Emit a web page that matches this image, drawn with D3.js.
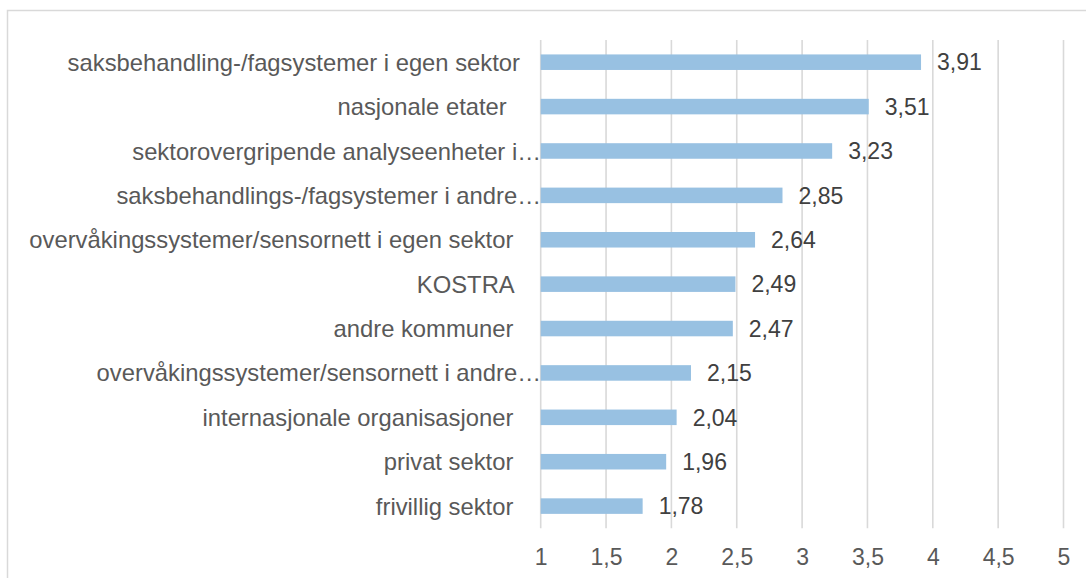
<!DOCTYPE html>
<html>
<head>
<meta charset="utf-8">
<script src="https://cdn.jsdelivr.net/npm/d3@7"></script>
<style>
  html, body { margin: 0; padding: 0; background: #fff; }
  svg text { font-family: "Liberation Sans", Arial, sans-serif; white-space: pre; }
</style>
</head>
<body>
<svg id="chart" width="1086" height="578"></svg>
<script>
// Data (top to bottom as displayed)
const categories = [
  "saksbehandling-/fagsystemer i egen sektor",
  "nasjonale etater  ",
  "sektorovergripende analyseenheter i…",
  "saksbehandlings-/fagsystemer i andre…",
  "overvåkingssystemer/sensornett i egen sektor ",
  "KOSTRA ",
  "andre kommuner ",
  "overvåkingssystemer/sensornett i andre…",
  "internasjonale organisasjoner ",
  "privat sektor ",
  "frivillig sektor "
];
const values = [3.91, 3.51, 3.23, 2.85, 2.64, 2.49, 2.47, 2.15, 2.04, 1.96, 1.78];
const tickValues = [1, 1.5, 2, 2.5, 3, 3.5, 4, 4.5, 5];
const tickLabels = ["1", "1,5", "2", "2,5", "3", "3,5", "4", "4,5", "5"];
const valueLabels = ["3,91", "3,51", "3,23", "2,85", "2,64", "2,49", "2,47", "2,15", "2,04", "1,96", "1,78"];

const svg = d3.select("#chart");
const W = 1086, H = 578;

// outer chart border
svg.append("rect")
  .attr("x", 7.5).attr("y", 10.5)
  .attr("width", 1100).attr("height", 600)
  .attr("fill", "#fff").attr("stroke", "#d9d9d9").attr("stroke-width", 1.5);

const plot = { left: 540.7, right: 1063.5, top: 40, bottom: 528.3 };

const x = d3.scaleLinear().domain([1, 5]).range([plot.left, plot.right]);
const y = d3.scaleBand().domain(d3.range(categories.length))
  .range([plot.top, plot.bottom]).paddingInner(0.65).paddingOuter(0.325);

// gridlines
svg.append("g").selectAll("line").data(tickValues).join("line")
  .attr("x1", d => x(d)).attr("x2", d => x(d))
  .attr("y1", plot.top).attr("y2", plot.bottom)
  .attr("stroke", "#d9d9d9").attr("stroke-width", 1.6);

// bars
svg.append("g").selectAll("rect").data(values).join("rect")
  .attr("x", x(1))
  .attr("y", (d, i) => y(i))
  .attr("width", d => x(d) - x(1))
  .attr("height", y.bandwidth())
  .attr("fill", "#98c1e2");

// value labels
svg.append("g").selectAll("text").data(values).join("text")
  .attr("x", d => x(d) + 16)
  .attr("y", (d, i) => y(i) + y.bandwidth() / 2)
  .attr("dy", "0.36em")
  .attr("font-size", 23)
  .attr("fill", "#404040")
  .text((d, i) => valueLabels[i]);

// category labels
svg.append("g").selectAll("text").data(categories).join("text")
  .attr("x", d => d.endsWith("…") ? 541 : 520)
  .attr("y", (d, i) => y(i) + y.bandwidth() / 2)
  .attr("dy", "0.36em")
  .attr("text-anchor", "end")
  .attr("font-size", 23.8)
  .attr("fill", "#595959")
  .text(d => d);

// x axis tick labels
const xAxis = d3.axisBottom(x).tickValues(tickValues)
  .tickFormat((d, i) => tickLabels[i]).tickSize(0).tickPadding(0);
const gx = svg.append("g").attr("transform", `translate(0, ${plot.bottom})`).call(xAxis);
gx.select(".domain").remove();
gx.selectAll("text")
  .attr("y", 28.3)
  .attr("dy", "0.36em")
  .attr("font-size", 23)
  .attr("font-family", "Liberation Sans, Arial, sans-serif")
  .attr("fill", "#595959");
</script>
</body>
</html>
